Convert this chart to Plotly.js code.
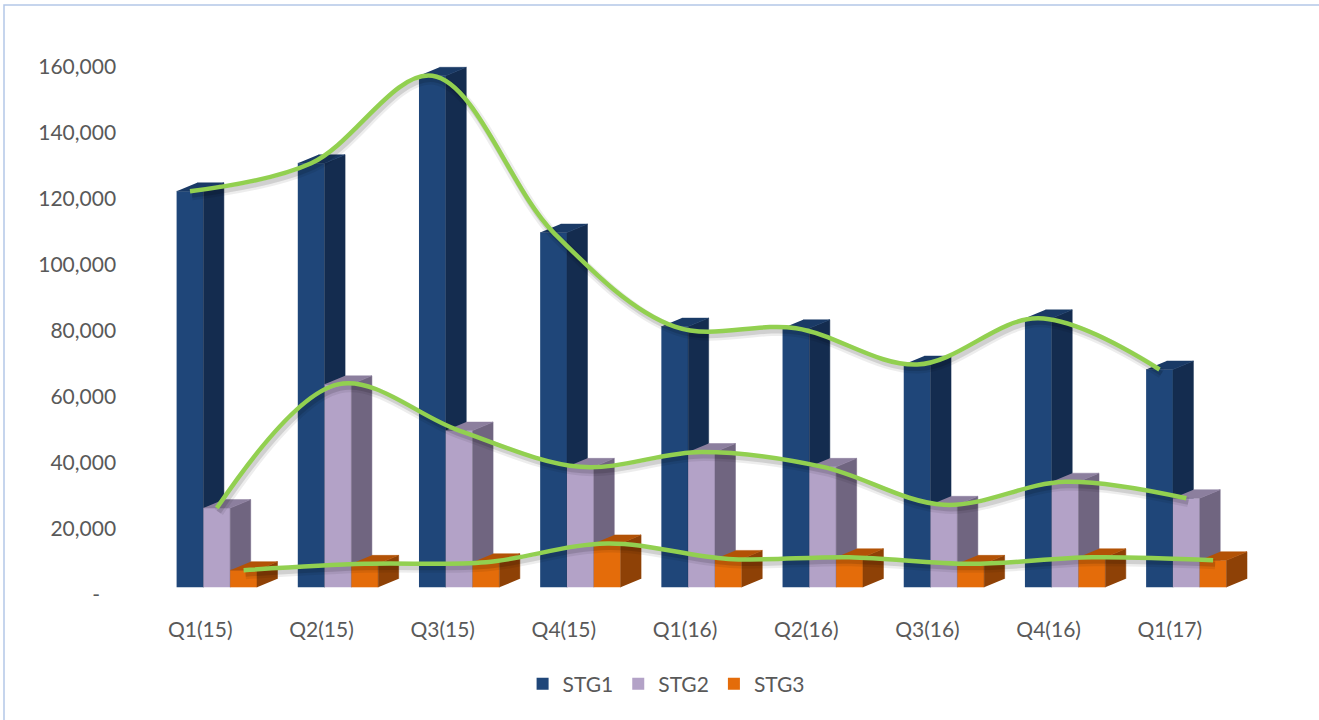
<!DOCTYPE html>
<html>
<head>
<meta charset="utf-8">
<script src="https://cdn.plot.ly/plotly-3.0.1.min.js"></script>
<style>html,body{margin:0;padding:0;background:#fff;}#chart{width:1319px;height:720px;}</style>
</head>
<body>
<div id="chart"></div>
<script>
// ---- data ----
const categories = ['Q1(15)','Q2(15)','Q3(15)','Q4(15)','Q1(16)','Q2(16)','Q3(16)','Q4(16)','Q1(17)'];
const stg1 = [120000, 128500, 155000, 107500, 79000, 78500, 67500, 81500, 66000];
const stg2 = [24000, 61500, 47500, 36500, 41000, 36500, 25000, 32000, 27000];
const stg3 = [5200, 7100, 7600, 13300, 8600, 9100, 7100, 9100, 8200];
const seriesNames = ['STG1','STG2','STG3'];
const yTickVals = [0,20000,40000,60000,80000,100000,120000,140000,160000];
const yTickText = ['-\u00a0\u00a0\u00a0','20,000','40,000','60,000','80,000','100,000','120,000','140,000','160,000'];

// ---- geometry / style ----
const W = 1319, H = 720;
const pxPerCat = 121.19, tick0px = 200.3;
const xr = [-1, 9];
const xDom = [(tick0px - pxPerCat)/W, (tick0px + 9*pxPerCat)/W];
const unitPerPx = 1000/3.3;
const plotTop = 40, plotBot = 605, zeroPx = 595;
const yr = [-(plotBot-zeroPx)*unitPerPx, (zeroPx-plotTop)*unitPerPx];
const yDom = [1-plotBot/H, 1-plotTop/H];
const floorShift = 7.7*unitPerPx;
const yr2 = [yr[0]-floorShift, yr[1]-floorShift];
const fw = 26.8/pxPerCat;
const offs = [-0.085, -0.085+fw, -0.085+2*fw];
const dx = 20.5/pxPerCat, dy = 8.5*unitPerPx;
const colors = [
  {front:'#1F4679', side:'#142C4F', top:'#1A3A66'},
  {front:'#B3A2C7', side:'#706580', top:'#8C7F9E'},
  {front:'#E46C0A', side:'#8E4106', top:'#B35206'}
];
const green = '#92D050';
const font = 'Lato, "Open Sans", sans-serif';

const allSeries = [stg1, stg2, stg3];
const traces = [];
// anchor trace for the main x/y subplot (carries the visible axes)
traces.push({type:'scatter', x:[null], y:[null], xaxis:'x', yaxis:'y', mode:'markers', showlegend:false, hoverinfo:'skip'});
allSeries.forEach((vals, s) => {
  const yax = 'y' + (s+2);
  const sx = [], sy = [], tx = [], ty = [], bx = [];
  vals.forEach((v, i) => {
    const xl = i + offs[s] - fw/2, xrr = xl + fw;
    bx.push(i + offs[s]);
    sx.push(xrr, xrr, xrr+dx, xrr+dx, null);
    sy.push(0, v, v+dy, dy, null);
    tx.push(xl, xrr, xrr+dx, xl+dx, null);
    ty.push(v, v, v+dy, v+dy, null);
  });
  traces.push({type:'scatter', x:sx, y:sy, xaxis:'x', yaxis:yax, mode:'lines', fill:'toself',
    fillcolor:colors[s].side, line:{width:0.5, color:colors[s].side}, showlegend:false, hoverinfo:'skip'});
  traces.push({type:'scatter', x:tx, y:ty, xaxis:'x', yaxis:yax, mode:'lines', fill:'toself',
    fillcolor:colors[s].top, line:{width:0.5, color:colors[s].top}, showlegend:false, hoverinfo:'skip'});
  traces.push({type:'bar', name:seriesNames[s], x:bx, y:vals, width:fw, xaxis:'x', yaxis:yax,
    marker:{color:colors[s].front, line:{width:0}}, showlegend:true});
});
// shadows and lines
allSeries.forEach((vals, s) => {
  const lx = vals.map((v,i)=> i + offs[s]);
  traces.push({type:'scatter', x:lx, y:vals, xaxis:'x2', yaxis:'y5', mode:'lines',
    line:{shape:'spline', smoothing:1, width:10, color:'rgba(0,0,0,0.07)'}, showlegend:false, hoverinfo:'skip'});
  traces.push({type:'scatter', x:lx, y:vals, xaxis:'x2', yaxis:'y5', mode:'lines',
    line:{shape:'spline', smoothing:1, width:5, color:'rgba(0,0,0,0.12)'}, showlegend:false, hoverinfo:'skip'});
});
allSeries.forEach((vals, s) => {
  const lx = vals.map((v,i)=> i + offs[s]);
  traces.push({type:'scatter', x:lx, y:vals, xaxis:'x3', yaxis:'y6', mode:'lines',
    line:{shape:'spline', smoothing:1, width:4.5, color:green}, showlegend:false, hoverinfo:'skip'});
});

const shX = 2/pxPerCat, shY = 4*unitPerPx;
const hiddenY = (range) => ({overlaying:'y', range:range, visible:false, fixedrange:true});
const layout = {
  width: W, height: H,
  margin:{l:0, r:0, t:0, b:0},
  paper_bgcolor:'#fff', plot_bgcolor:'rgba(0,0,0,0)',
  barmode:'overlay',
  font:{family:font, color:'#595959', size:21},
  xaxis:{domain:xDom, range:xr, anchor:'y', tickvals:categories.map((c,i)=>i), ticktext:categories,
    showgrid:false, zeroline:false, showline:false, ticks:'', ticklabelstandoff:10,
    tickfont:{family:font, size:21, color:'#595959'}, fixedrange:true},
  xaxis2:{overlaying:'x', range:[xr[0]-shX, xr[1]-shX], visible:false},
  xaxis3:{overlaying:'x', range:xr, visible:false},
  yaxis:{domain:yDom, range:yr, anchor:'x', tickvals:yTickVals, ticktext:yTickText,
    ticklabelstandoff:-38,
    showgrid:false, zeroline:false, showline:false, ticks:'',
    tickfont:{family:font, size:21, color:'#595959'}, fixedrange:true},
  yaxis2:hiddenY(yr2), yaxis3:hiddenY(yr2), yaxis4:hiddenY(yr2),
  yaxis5:hiddenY([yr2[0]+shY, yr2[1]+shY]),
  yaxis6:hiddenY(yr2),
  legend:{orientation:'h', x:0.505, xanchor:'center', y:1-684/H, yanchor:'middle',
    font:{family:font, size:21, color:'#595959'}, itemclick:false},
  shapes:[{type:'rect', xref:'paper', yref:'paper', x0:4/W, x1:1.05, y0:-0.1, y1:1-5/H,
    line:{color:'#B4C7E7', width:1.5}, fillcolor:'rgba(0,0,0,0)'}]
};
Plotly.newPlot('chart', traces, layout, {staticPlot:true, displayModeBar:false});
</script>
</body>
</html>
